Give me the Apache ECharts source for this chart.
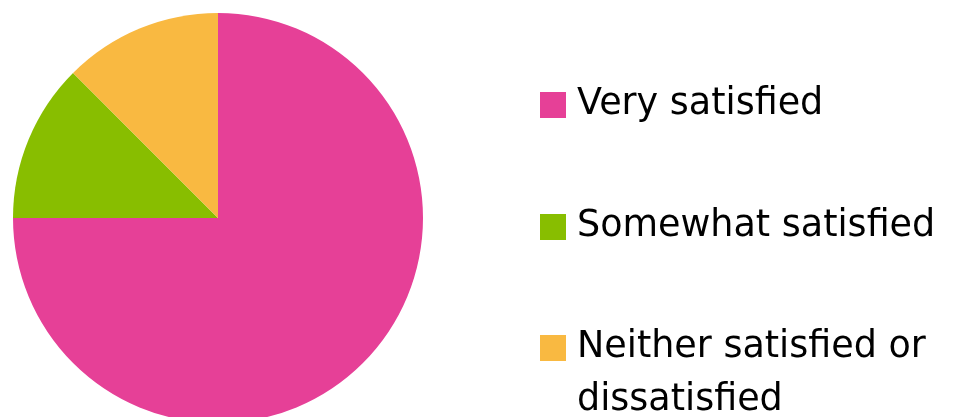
<!DOCTYPE html>
<html>
<head>
<meta charset="utf-8">
<script src="https://cdn.jsdelivr.net/npm/echarts@6/dist/echarts.min.js"></script>
<style>html,body{margin:0;padding:0;background:#fff;}#c{width:953px;height:417px;}</style>
</head>
<body>
<div id="c"></div>
<script>
const categories = ['Very satisfied', 'Somewhat satisfied', 'Neither satisfied or\ndissatisfied'];
const values = [75, 12.5, 12.5];
const colors = ['#E64097', '#88BE00', '#F9B941'];

const chart = echarts.init(document.getElementById('c'), null, {renderer: 'canvas'});
const font = 'DejaVu Sans';
const fs = 36.5;
const lh = 53;
const iconCenters = [105, 227, 348];
const legends = categories.map((name, i) => {
  const lines = name.split('\n');
  const multi = lines.length > 1;
  return {
    orient: 'vertical',
    left: 540,
    top: iconCenters[i] - (multi ? 79.5 : 26.5),
    padding: 0,
    itemWidth: 26,
    itemHeight: 26,
    itemGap: 0,
    icon: 'rect',
    selectedMode: false,
    formatter: function (n) {
      const ls = n.split('\n').map(s => '{t|' + s + '}');
      return (ls.length > 1 ? '{e| }\n' : '') + ls.join('\n');
    },
    textStyle: {
      fontFamily: font, fontSize: fs, color: '#000', lineHeight: lh,
      rich: {
        t: {fontFamily: font, fontSize: fs, color: '#000', lineHeight: lh, padding: [0, 0, 0, 6]},
        e: {fontFamily: font, fontSize: fs, lineHeight: lh}
      }
    },
    data: [name]
  };
});

chart.setOption({
  animation: false,
  color: colors,
  legend: legends,
  series: [{
    type: 'pie',
    center: [218, 218],
    radius: 205,
    startAngle: 90,
    clockwise: true,
    label: {show: false},
    labelLine: {show: false},
    itemStyle: {borderWidth: 0},
    emphasis: {disabled: true},
    data: categories.map((n, i) => ({name: n, value: values[i]}))
  }]
});
</script>
</body>
</html>
